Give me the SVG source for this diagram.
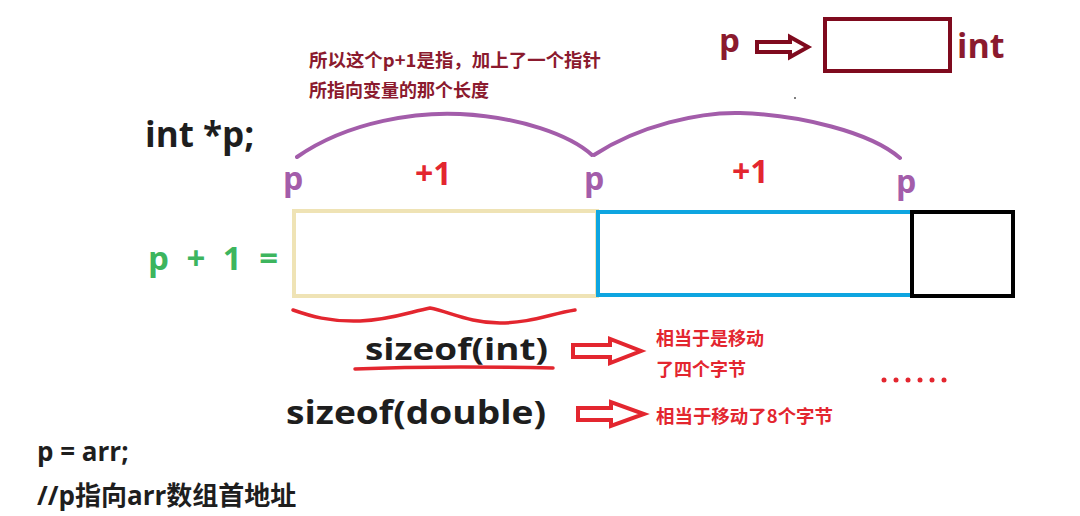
<svg xmlns="http://www.w3.org/2000/svg" width="1080" height="516" viewBox="0 0 1080 516">
<style>
.t{font-family:"Open Sans","Noto Sans","Noto Sans CJK SC",sans-serif;font-weight:bold}
.cj{font-family:"Noto Sans CJK SC","Open Sans",sans-serif;font-weight:bold}
.pur{fill:#A35DAA}
.red{fill:#E3262F}
.dr{fill:#8B1A2E}
.blk{fill:#1E1E1E}
.arc{fill:none;stroke:#A35DAA;stroke-width:4;stroke-linecap:round}
.rl{fill:none;stroke:#E3262F;stroke-width:3.5;stroke-linecap:round}
.ha{fill:#fff;stroke:#E3262F;stroke-width:4;stroke-linejoin:miter}
</style>
<rect width="1080" height="516" fill="#fff"/>
<g id="legend">
<text class="t dr" x="719" y="52" font-size="33">p</text>
<path d="M757,42 H790 V37 L808,47 L790,57 V52 H757 Z" fill="#fff" stroke="#7F0A1E" stroke-width="4"/>
<rect x="825" y="19" width="125" height="52" fill="none" stroke="#7F0A1E" stroke-width="4"/>
<text class="t dr" x="957" y="58" font-size="34">int</text>
<circle cx="795" cy="98" r="1" fill="#555"/>
</g>
<g id="note">
<text class="cj dr" x="309" y="67" font-size="18" textLength="292" lengthAdjust="spacingAndGlyphs">所以这个p+1是指，加上了一个指针</text>
<text class="cj dr" x="309" y="97" font-size="18">所指向变量的那个长度</text>
</g>
<g id="decl">
<text class="t blk" x="145" y="147" font-size="35">int *p;</text>
</g>
<g id="expr">
<text class="t" fill="#3DB55E" x="148" y="270" font-size="33" textLength="130" lengthAdjust="spacing">p + 1 =</text>
</g>
<g id="connectors">
<path class="arc" d="M297,157 C350,120 420,112 460,114 C520,117 570,135 592,155"/>
<path class="arc" d="M594,155 C640,125 700,112 740,113 C800,115 870,132 900,158"/>
<path class="rl" d="M293,310 C310,316 330,322 360,321 C390,320 410,312 430,308 C450,312 470,323 500,323 C530,323 550,314 575,310"/>
<path class="rl" d="M355,369 C400,367 460,366 553,368"/>
</g>
<g id="labels">
<text class="t pur" x="283" y="190" font-size="32">p</text>
<text class="t red" x="415" y="185" font-size="32">+1</text>
<text class="t pur" x="584" y="190" font-size="32">p</text>
<text class="t red" x="732" y="183" font-size="32">+1</text>
<text class="t pur" x="896" y="193" font-size="32">p</text>
</g>
<g id="cell1"><rect x="294" y="211" width="303" height="85" fill="none" stroke="#EFE3B5" stroke-width="4"/></g>
<g id="cell2"><rect x="598" y="212" width="314" height="83" fill="none" stroke="#0EA5E0" stroke-width="4"/></g>
<g id="cell3"><rect x="912" y="212" width="101" height="84" fill="none" stroke="#000" stroke-width="4"/></g>
<g id="dots" class="red">
<circle cx="884" cy="380" r="2.5"/><circle cx="896" cy="380" r="2.5"/><circle cx="908" cy="380" r="2.5"/><circle cx="920" cy="380" r="2.5"/><circle cx="932" cy="380" r="2.5"/><circle cx="944" cy="380" r="2.5"/>
</g>
<g id="sizeint">
<text class="t blk" x="365" y="360" font-size="31" textLength="183" lengthAdjust="spacingAndGlyphs">sizeof(int)</text>
<path class="ha" d="M573,345 H610 V339 L641,351 L610,363 V357 H573 Z"/>
<text class="cj red" x="656" y="345" font-size="18">相当于是移动</text>
<text class="cj red" x="656" y="376" font-size="18">了四个字节</text>
</g>
<g id="sizedouble">
<text class="t blk" x="286" y="424" font-size="32" textLength="260" lengthAdjust="spacingAndGlyphs">sizeof(double)</text>
<path class="ha" d="M578,408 H611 V402 L644,414 L611,426 V420 H578 Z"/>
<text class="cj red" x="656" y="423" font-size="18" textLength="177" lengthAdjust="spacingAndGlyphs">相当于移动了8个字节</text>
</g>
<g id="code">
<text class="t blk" x="37" y="461" font-size="26">p = arr;</text>
<text class="t blk" x="37" y="505" font-size="26">//p指向arr数组首地址</text>
</g>
</svg>
